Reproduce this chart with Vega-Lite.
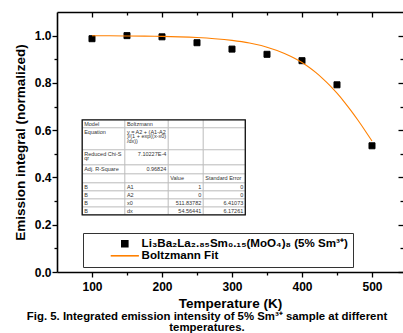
{
  "$schema": "https://vega.github.io/schema/vega-lite/v6.json",
  "width": 346,
  "height": 260,
  "autosize": {"type": "none"},
  "padding": {"left": 57, "top": 12, "right": 0, "bottom": 61},
  "background": "white",
  "config": {"view": {"stroke": null}, "font": "Liberation Sans"},
  "title": {
    "text": ["Fig. 5. Integrated emission intensity of 5% Sm³⁺ sample at different", "temperatures."],
    "orient": "bottom",
    "anchor": "middle",
    "font": "Liberation Sans",
    "fontSize": 11.4,
    "fontWeight": "bold",
    "color": "#000",
    "lineHeight": 11.8,
    "offset": 1,
    "dx": -23
  },
  "datasets": {
    "series": [
      {"T": 100, "v": 0.987, "s": "Li₃Ba₂La₂.₈₅Sm₀.₁₅(MoO₄)₈ (5% Sm³⁺)"},
      {"T": 150, "v": 1.0, "s": "Li₃Ba₂La₂.₈₅Sm₀.₁₅(MoO₄)₈ (5% Sm³⁺)"},
      {"T": 200, "v": 0.995, "s": "Li₃Ba₂La₂.₈₅Sm₀.₁₅(MoO₄)₈ (5% Sm³⁺)"},
      {"T": 250, "v": 0.97, "s": "Li₃Ba₂La₂.₈₅Sm₀.₁₅(MoO₄)₈ (5% Sm³⁺)"},
      {"T": 300, "v": 0.943, "s": "Li₃Ba₂La₂.₈₅Sm₀.₁₅(MoO₄)₈ (5% Sm³⁺)"},
      {"T": 350, "v": 0.921, "s": "Li₃Ba₂La₂.₈₅Sm₀.₁₅(MoO₄)₈ (5% Sm³⁺)"},
      {"T": 400, "v": 0.894, "s": "Li₃Ba₂La₂.₈₅Sm₀.₁₅(MoO₄)₈ (5% Sm³⁺)"},
      {"T": 450, "v": 0.792, "s": "Li₃Ba₂La₂.₈₅Sm₀.₁₅(MoO₄)₈ (5% Sm³⁺)"},
      {"T": 500, "v": 0.534, "s": "Li₃Ba₂La₂.₈₅Sm₀.₁₅(MoO₄)₈ (5% Sm³⁺)"},
      {"T": 100, "v": 0.9995, "s": "Boltzmann Fit"},
      {"T": 125, "v": 0.9992, "s": "Boltzmann Fit"},
      {"T": 150, "v": 0.9987, "s": "Boltzmann Fit"},
      {"T": 175, "v": 0.9979, "s": "Boltzmann Fit"},
      {"T": 200, "v": 0.9967, "s": "Boltzmann Fit"},
      {"T": 225, "v": 0.9948, "s": "Boltzmann Fit"},
      {"T": 250, "v": 0.9918, "s": "Boltzmann Fit"},
      {"T": 275, "v": 0.9871, "s": "Boltzmann Fit"},
      {"T": 300, "v": 0.9798, "s": "Boltzmann Fit"},
      {"T": 325, "v": 0.9685, "s": "Boltzmann Fit"},
      {"T": 350, "v": 0.951, "s": "Boltzmann Fit"},
      {"T": 375, "v": 0.9247, "s": "Boltzmann Fit"},
      {"T": 390, "v": 0.9032, "s": "Boltzmann Fit"},
      {"T": 400, "v": 0.886, "s": "Boltzmann Fit"},
      {"T": 410, "v": 0.8661, "s": "Boltzmann Fit"},
      {"T": 420, "v": 0.8433, "s": "Boltzmann Fit"},
      {"T": 430, "v": 0.8172, "s": "Boltzmann Fit"},
      {"T": 440, "v": 0.7886, "s": "Boltzmann Fit"},
      {"T": 450, "v": 0.7564, "s": "Boltzmann Fit"},
      {"T": 460, "v": 0.7211, "s": "Boltzmann Fit"},
      {"T": 470, "v": 0.6828, "s": "Boltzmann Fit"},
      {"T": 480, "v": 0.6418, "s": "Boltzmann Fit"},
      {"T": 490, "v": 0.5988, "s": "Boltzmann Fit"},
      {"T": 500, "v": 0.5541, "s": "Boltzmann Fit"}
    ],
    "table": [
      {"x1": 86, "x2": 147, "y1": 0.644, "y2": 0.61, "t": "Model", "a": "l"},
      {"x1": 147, "x2": 209, "y1": 0.644, "y2": 0.61, "t": "Boltzmann", "a": "l"},
      {"x1": 209, "x2": 259, "y1": 0.644, "y2": 0.61, "t": "", "a": "l"},
      {"x1": 259, "x2": 319, "y1": 0.644, "y2": 0.61, "t": "", "a": "l"},
      {"x1": 86, "x2": 147, "y1": 0.61, "y2": 0.517, "t": "Equation", "a": "l"},
      {"x1": 147, "x2": 209, "y1": 0.61, "y2": 0.517, "t": "y = A2 + (A1-A2\n)/(1 + exp((x-x0)\n/dx))", "a": "l"},
      {"x1": 209, "x2": 259, "y1": 0.61, "y2": 0.517, "t": "", "a": "l"},
      {"x1": 259, "x2": 319, "y1": 0.61, "y2": 0.517, "t": "", "a": "l"},
      {"x1": 86, "x2": 147, "y1": 0.517, "y2": 0.453, "t": "Reduced Chi-S\nqr", "a": "l"},
      {"x1": 147, "x2": 209, "y1": 0.517, "y2": 0.453, "t": "7.10227E-4", "a": "r"},
      {"x1": 209, "x2": 259, "y1": 0.517, "y2": 0.453, "t": "", "a": "l"},
      {"x1": 259, "x2": 319, "y1": 0.517, "y2": 0.453, "t": "", "a": "l"},
      {"x1": 86, "x2": 147, "y1": 0.453, "y2": 0.415, "t": "Adj. R-Square", "a": "l"},
      {"x1": 147, "x2": 209, "y1": 0.453, "y2": 0.415, "t": "0.96824", "a": "r"},
      {"x1": 209, "x2": 259, "y1": 0.453, "y2": 0.415, "t": "", "a": "l"},
      {"x1": 259, "x2": 319, "y1": 0.453, "y2": 0.415, "t": "", "a": "l"},
      {"x1": 86, "x2": 147, "y1": 0.415, "y2": 0.377, "t": "", "a": "l"},
      {"x1": 147, "x2": 209, "y1": 0.415, "y2": 0.377, "t": "", "a": "l"},
      {"x1": 209, "x2": 259, "y1": 0.415, "y2": 0.377, "t": "Value", "a": "l"},
      {"x1": 259, "x2": 319, "y1": 0.415, "y2": 0.377, "t": "Standard Error", "a": "l"},
      {"x1": 86, "x2": 147, "y1": 0.377, "y2": 0.343, "t": "B", "a": "l"},
      {"x1": 147, "x2": 209, "y1": 0.377, "y2": 0.343, "t": "A1", "a": "l"},
      {"x1": 209, "x2": 259, "y1": 0.377, "y2": 0.343, "t": "1", "a": "r"},
      {"x1": 259, "x2": 319, "y1": 0.377, "y2": 0.343, "t": "0", "a": "r"},
      {"x1": 86, "x2": 147, "y1": 0.343, "y2": 0.309, "t": "B", "a": "l"},
      {"x1": 147, "x2": 209, "y1": 0.343, "y2": 0.309, "t": "A2", "a": "l"},
      {"x1": 209, "x2": 259, "y1": 0.343, "y2": 0.309, "t": "0", "a": "r"},
      {"x1": 259, "x2": 319, "y1": 0.343, "y2": 0.309, "t": "0", "a": "r"},
      {"x1": 86, "x2": 147, "y1": 0.309, "y2": 0.275, "t": "B", "a": "l"},
      {"x1": 147, "x2": 209, "y1": 0.309, "y2": 0.275, "t": "x0", "a": "l"},
      {"x1": 209, "x2": 259, "y1": 0.309, "y2": 0.275, "t": "511.83782", "a": "r"},
      {"x1": 259, "x2": 319, "y1": 0.309, "y2": 0.275, "t": "6.41073", "a": "r"},
      {"x1": 86, "x2": 147, "y1": 0.275, "y2": 0.242, "t": "B", "a": "l"},
      {"x1": 147, "x2": 209, "y1": 0.275, "y2": 0.242, "t": "dx", "a": "l"},
      {"x1": 209, "x2": 259, "y1": 0.275, "y2": 0.242, "t": "54.56441", "a": "r"},
      {"x1": 259, "x2": 319, "y1": 0.275, "y2": 0.242, "t": "6.17261", "a": "r"}
    ]
  },
  "resolve": {"axis": {"x": "independent", "y": "independent"}},
  "layer": [
    {
      "data": {"name": "table"},
      "mark": {"type": "rect", "fill": "white", "stroke": "#bdbdbd", "strokeWidth": 0.8},
      "encoding": {
        "x": {"field": "x1", "type": "quantitative", "scale": {"domain": [50, 544.3], "nice": false, "zero": false}, "axis": null},
        "x2": {"field": "x2"},
        "y": {"field": "y1", "type": "quantitative", "scale": {"domain": [0, 1.1], "nice": false, "zero": false}, "axis": null},
        "y2": {"field": "y2"}
      }
    },
    {
      "data": {"name": "table"},
      "mark": {"type": "rect", "filled": false, "stroke": "#111", "strokeWidth": 1.3},
      "encoding": {
        "x": {"aggregate": "min", "field": "x1", "type": "quantitative", "scale": {"domain": [50, 544.3], "nice": false, "zero": false}, "axis": null},
        "x2": {"aggregate": "max", "field": "x2"},
        "y": {"aggregate": "max", "field": "y1", "type": "quantitative", "scale": {"domain": [0, 1.1], "nice": false, "zero": false}, "axis": null},
        "y2": {"aggregate": "min", "field": "y2"}
      }
    },
    {
      "data": {"name": "table"},
      "transform": [{"filter": "datum.a === 'l' && datum.t !== ''"}],
      "mark": {"type": "text", "align": "left", "baseline": "top", "dx": 2, "dy": 1.8, "fontSize": 5.5, "lineHeight": 4.6, "lineBreak": "\n", "color": "#333", "font": "Liberation Sans"},
      "encoding": {
        "x": {"field": "x1", "type": "quantitative", "scale": {"domain": [50, 544.3], "nice": false, "zero": false}, "axis": null},
        "y": {"field": "y1", "type": "quantitative", "scale": {"domain": [0, 1.1], "nice": false, "zero": false}, "axis": null},
        "text": {"field": "t"}
      }
    },
    {
      "data": {"name": "table"},
      "transform": [{"filter": "datum.a === 'r'"}],
      "mark": {"type": "text", "align": "right", "baseline": "top", "dx": -2, "dy": 1.8, "fontSize": 5.5, "lineHeight": 4.6, "color": "#333", "font": "Liberation Sans"},
      "encoding": {
        "x": {"field": "x2", "type": "quantitative", "scale": {"domain": [50, 544.3], "nice": false, "zero": false}, "axis": null},
        "y": {"field": "y1", "type": "quantitative", "scale": {"domain": [0, 1.1], "nice": false, "zero": false}, "axis": null},
        "text": {"field": "t"}
      }
    },
    {
      "data": {"name": "series"},
      "transform": [{"filter": "datum.s !== 'Boltzmann Fit'"}],
      "mark": {"type": "point", "filled": false, "fill": "#000000", "strokeWidth": 1, "size": 36, "opacity": 1},
      "encoding": {
        "x": {
          "field": "T", "type": "quantitative",
          "scale": {"domain": [50, 544.3], "nice": false, "zero": false},
          "axis": {
            "orient": "bottom", "title": "Temperature (K)",
            "values": [100, 150, 200, 250, 300, 350, 400, 450, 500],
            "labelExpr": "datum.value % 100 === 50 ? '' : datum.label",
            "tickSize": {"condition": {"test": "datum.value % 100 === 50", "value": 3}, "value": 5},
            "tickWidth": 1.3, "tickColor": "#000", "domainColor": "#000", "domainWidth": 1.6,
            "labelFont": "Liberation Sans", "labelFontSize": 12, "labelFontWeight": "bold", "labelColor": "#000",
            "labelPadding": 4, "labelOverlap": false, "labelFlush": false,
            "titleFont": "Liberation Sans", "titleFontSize": 13.5, "titleFontWeight": "bold", "titleColor": "#000",
            "titlePadding": 4, "grid": false
          }
        },
        "y": {
          "field": "v", "type": "quantitative",
          "scale": {"domain": [0, 1.1], "nice": false, "zero": false},
          "axis": {
            "orient": "left", "title": "Emission integral (normalized)",
            "values": [0, 0.1, 0.2, 0.3, 0.4, 0.5, 0.6, 0.7, 0.8, 0.9, 1.0],
            "labelExpr": "round(datum.value * 10) % 2 === 1 ? '' : format(datum.value, '.1f')",
            "tickSize": {"condition": {"test": "round(datum.value * 10) % 2 === 1", "value": 3}, "value": 5},
            "tickWidth": 1.3, "tickColor": "#000", "domainColor": "#000", "domainWidth": 1.6,
            "labelFont": "Liberation Sans", "labelFontSize": 12, "labelFontWeight": "bold", "labelColor": "#000",
            "labelPadding": 1, "labelOverlap": false, "labelFlush": false,
            "titleFont": "Liberation Sans", "titleFontSize": 13.5, "titleFontWeight": "bold", "titleColor": "#000",
            "titlePadding": 7, "grid": false
          }
        },
        "color": {
          "field": "s", "type": "nominal",
          "scale": {"domain": ["Li₃Ba₂La₂.₈₅Sm₀.₁₅(MoO₄)₈ (5% Sm³⁺)", "Boltzmann Fit"], "range": ["#000000", "#FF8000"]},
          "legend": {
            "orient": "none", "legendX": 26, "legendY": 221, "title": null, "direction": "vertical",
            "padding": 5, "symbolOffset": 31, "labelOffset": 11, "rowPadding": -2,
            "labelFont": "Liberation Sans", "labelFontSize": 11.6, "labelFontWeight": "bold", "labelColor": "#000",
            "labelLimit": 1000, "symbolStrokeWidth": 1.6, "symbolSize": 36,
            "fillColor": "#ffffff", "strokeColor": "#333333",
            "labelExpr": "datum.value === 'Boltzmann Fit' ? datum.label : datum.label + '\u00a0\u00a0\u00a0\u00a0\u00a0\u00a0\u00a0\u00a0\u00a0\u00a0\u00a0\u00a0\u00a0\u00a0\u00a0\u00a0'"
          }
        },
        "shape": {
          "field": "s", "type": "nominal",
          "scale": {"domain": ["Li₃Ba₂La₂.₈₅Sm₀.₁₅(MoO₄)₈ (5% Sm³⁺)", "Boltzmann Fit"], "range": ["square", "M-4.7,0H4.7"]},
          "legend": {
            "orient": "none", "legendX": 26, "legendY": 221, "title": null, "direction": "vertical",
            "padding": 5, "symbolOffset": 31, "labelOffset": 11, "rowPadding": -2,
            "labelFont": "Liberation Sans", "labelFontSize": 11.6, "labelFontWeight": "bold", "labelColor": "#000",
            "labelLimit": 1000, "symbolStrokeWidth": 1.6, "symbolSize": 36,
            "fillColor": "#ffffff", "strokeColor": "#333333",
            "labelExpr": "datum.value === 'Boltzmann Fit' ? datum.label : datum.label + '\u00a0\u00a0\u00a0\u00a0\u00a0\u00a0\u00a0\u00a0\u00a0\u00a0\u00a0\u00a0\u00a0\u00a0\u00a0\u00a0'"
          }
        }
      }
    },
    {
      "data": {"name": "series"},
      "transform": [{"filter": "datum.s === 'Boltzmann Fit'"}],
      "mark": {"type": "line", "strokeWidth": 1.1, "interpolate": "monotone"},
      "encoding": {
        "x": {
          "field": "T", "type": "quantitative",
          "scale": {"domain": [50, 544.3], "nice": false, "zero": false},
          "axis": {
            "orient": "top", "title": null, "labels": false,
            "values": [100, 150, 200, 250, 300, 350, 400, 450, 500],
            "tickSize": {"condition": {"test": "datum.value % 100 === 50", "value": -3}, "value": -5},
            "tickWidth": 1.3, "tickColor": "#000", "domainColor": "#000", "domainWidth": 1.6, "grid": false
          }
        },
        "y": {
          "field": "v", "type": "quantitative",
          "scale": {"domain": [0, 1.1], "nice": false, "zero": false},
          "axis": {
            "orient": "right", "title": null, "labels": false, "domain": false,
            "values": [0, 0.1, 0.2, 0.3, 0.4, 0.5, 0.6, 0.7, 0.8, 0.9, 1.0],
            "tickSize": {"condition": {"test": "round(datum.value * 10) % 2 === 1", "value": -3}, "value": -5},
            "tickWidth": 1.3, "tickColor": "#000", "grid": false
          }
        },
        "color": {
          "field": "s", "type": "nominal",
          "scale": {"domain": ["Li₃Ba₂La₂.₈₅Sm₀.₁₅(MoO₄)₈ (5% Sm³⁺)", "Boltzmann Fit"], "range": ["#000000", "#FF8000"]}
        }
      }
    }
  ]
}
